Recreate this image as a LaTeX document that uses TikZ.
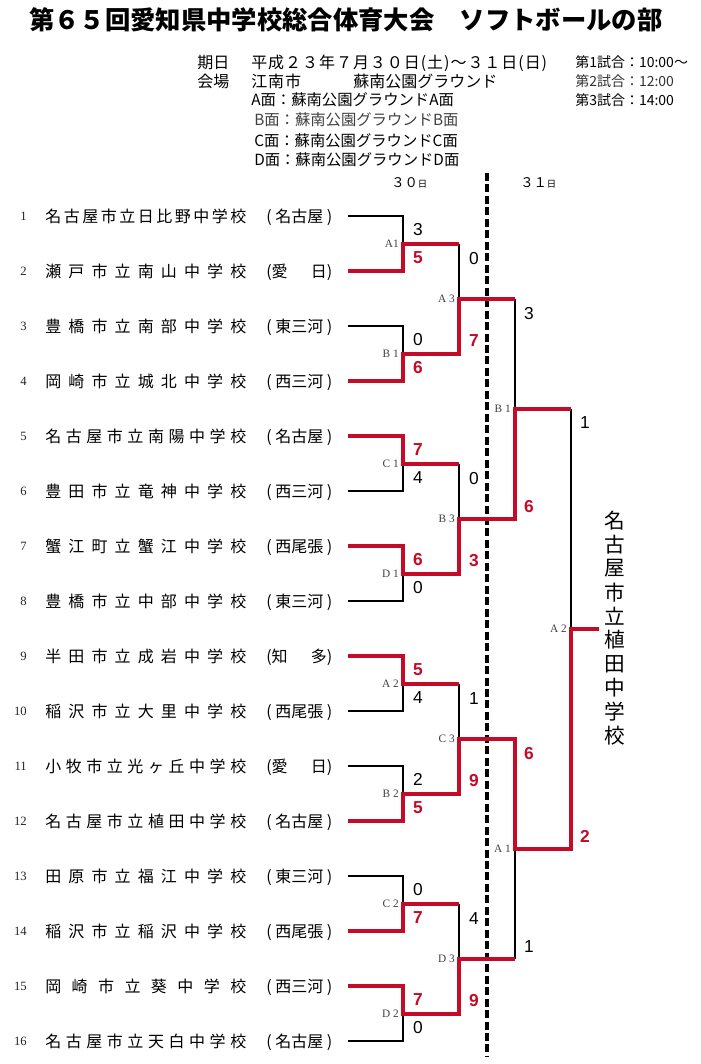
\documentclass[tikz,border=0pt]{standalone}
\usepackage{fontspec}
\setmainfont{Liberation Serif}
\newfontfamily\jp{Noto Sans CJK JP}
\newfontfamily\jpls{Noto Sans CJK JP}[LetterSpace=6]
\newfontfamily\lsans{Liberation Sans}
\definecolor{bred}{RGB}{196,12,40}
\newcommand\tname[1]{\hbox to 150.75pt{\spaceskip=0pt plus 1fil\relax #1}}
\newcommand\treg[1]{\hbox to 49.5pt{#1}}
\tikzset{
  blk/.style={draw=black, line width=0.8pt},
  rd/.style={draw=bred, line width=3pt, line join=miter},
  dashln/.style={draw=black, line width=2.3pt, dash pattern=on 6pt off 2.6pt},
  team/.style={anchor=base west, inner sep=0pt, font=\jp\fontsize{12pt}{14pt}\selectfont},
  num/.style={anchor=east, inner sep=0pt, font=\fontsize{9.5pt}{12pt}\selectfont, text=black!85},
  hd/.style={anchor=base west, inner sep=0pt, font=\jp\fontsize{12pt}{14pt}\selectfont},
  tm/.style={anchor=base west, inner sep=0pt, font=\jp\fontsize{10.5pt}{12pt}\selectfont},
  fm/.style={anchor=base west, inner sep=0pt, font=\jp\fontsize{11.5pt}{13pt}\selectfont},
  scb/.style={inner sep=0pt, font=\lsans\fontsize{13pt}{15pt}\selectfont},
  scr/.style={inner sep=0pt, font=\lsans\bfseries\fontsize{13pt}{15pt}\selectfont, text=bred},
  lab/.style={anchor=east, inner sep=0pt, font=\fontsize{8.5pt}{10pt}\selectfont, text=black!75},
  win/.style={inner sep=0pt, font=\jp\fontsize{15.5pt}{17pt}\selectfont},
}
\begin{document}
\begin{tikzpicture}[x=0.75pt, y=-0.75pt]
\fill[white] (0,0) rectangle (700,1064);
\useasboundingbox (0,0) rectangle (700,1064);

% title and header
\node[anchor=west, inner sep=0pt, font=\jp\bfseries\fontsize{19pt}{22pt}\selectfont] (title) at (29,20) {第６５回愛知県中学校総合体育大会　ソフトボールの部};
\node[hd] (kijitsu) at (197,68) {期日};
\node[hd, font=\jpls\fontsize{12pt}{14pt}\selectfont] (date) at (251,68) {平成２３年７月３０日(土)～３１日(日)};
\node[hd] (kaijo) at (197,87) {会場};
\node[hd, font=\jpls\fontsize{12pt}{14pt}\selectfont] (city) at (251,87) {江南市};
\node[hd] (park) at (353,87) {蘇南公園グラウンド};
\node[tm] (g1) at (575,67.5) {第1試合：10:00～};
\node[tm, text=black!80] (g2) at (575,86.5) {第2試合：12:00};
\node[tm] (g3) at (575,105.5) {第3試合：14:00};
\node[fm] (fa) at (251,105.5) {A面：蘇南公園グラウンドA面};
\node[fm, text=black!75] (fb) at (254,125) {B面：蘇南公園グラウンドB面};
\node[fm] (fc) at (254,146) {C面：蘇南公園グラウンドC面};
\node[fm] (fd) at (254,165) {D面：蘇南公園グラウンドD面};
\node[anchor=base west, inner sep=0pt, font=\jp\fontsize{10pt}{12pt}\selectfont] (d30) at (391,187) {３０\fontsize{7pt}{8pt}\selectfont 日};
\node[anchor=base west, inner sep=0pt, font=\jp\fontsize{10pt}{12pt}\selectfont] (d31) at (520,187) {３１\fontsize{7pt}{8pt}\selectfont 日};

% dashed day separator
\coordinate (dtop) at (487,173);
\coordinate (dbot) at (487,1056);
\draw[dashln] (dtop) -- (dbot);

% teams
\foreach \nm/\rg [count=\i] in {
  {名 古 屋 市 立 日 比 野 中 学 校}/{(\hfil 名古屋\hfil)},
  {瀬 戸 市 立 南 山 中 学 校}/{(愛\hfil 日)},
  {豊 橋 市 立 南 部 中 学 校}/{(\hfil 東三河\hfil)},
  {岡 崎 市 立 城 北 中 学 校}/{(\hfil 西三河\hfil)},
  {名 古 屋 市 立 南 陽 中 学 校}/{(\hfil 名古屋\hfil)},
  {豊 田 市 立 竜 神 中 学 校}/{(\hfil 西三河\hfil)},
  {蟹 江 町 立 蟹 江 中 学 校}/{(\hfil 西尾張\hfil)},
  {豊 橋 市 立 中 部 中 学 校}/{(\hfil 東三河\hfil)},
  {半 田 市 立 成 岩 中 学 校}/{(知\hfil 多)},
  {稲 沢 市 立 大 里 中 学 校}/{(\hfil 西尾張\hfil)},
  {小 牧 市 立 光 ヶ 丘 中 学 校}/{(愛\hfil 日)},
  {名 古 屋 市 立 植 田 中 学 校}/{(\hfil 名古屋\hfil)},
  {田 原 市 立 福 江 中 学 校}/{(\hfil 東三河\hfil)},
  {稲 沢 市 立 稲 沢 中 学 校}/{(\hfil 西尾張\hfil)},
  {岡 崎 市 立 葵 中 学 校}/{(\hfil 西三河\hfil)},
  {名 古 屋 市 立 天 白 中 学 校}/{(\hfil 名古屋\hfil)}} {
  \pgfmathsetmacro\ty{216+55*(\i-1)}
  \node[num] (n\i) at (27,\ty) {\i};
  \node[team] (t\i) at (45,\ty+6) {\tname{\nm}};
  \node[team] (r\i) at (266,\ty+6) {\treg{\rg}};
  \coordinate (s\i) at (348,\ty);
  \coordinate (e\i) at (403,\ty);
}

% join coordinates
\foreach \k in {1,...,8} {
  \pgfmathsetmacro\jy{243.5+110*(\k-1)}
  \coordinate (aj\k) at (403,\jy);
  \coordinate (ao\k) at (459,\jy);
}
\foreach \k in {1,...,4} {
  \pgfmathsetmacro\jy{298.5+220*(\k-1)}
  \coordinate (bj\k) at (459,\jy);
  \coordinate (bo\k) at (515,\jy);
}
\coordinate (cj1) at (515,408.5);
\coordinate (co1) at (571,408.5);
\coordinate (cj2) at (515,848.5);
\coordinate (co2) at (571,848.5);
\coordinate (fj) at (571,628.5);
\coordinate (fo) at (599,628.5);

% ---- black (losing) lines
\foreach \l/\k in {1/1,3/2,6/3,8/4,10/5,11/6,13/7,16/8}
  \draw[blk] (s\l) -- (e\l) -- (aj\k);
\draw[blk] (ao1) -- (bj1);
\draw[blk] (ao3) -- (bj2);
\draw[blk] (ao5) -- (bj3);
\draw[blk] (ao7) -- (bj4);
\draw[blk] (bo1) -- (cj1);
\draw[blk] (bo4) -- (cj2);
\draw[blk] (co1) -- (fj);

% ---- red (winning) lines
\foreach \w/\k in {2/1,4/2,5/3,7/4,9/5,12/6,14/7,15/8}
  \draw[rd] (s\w) -- (e\w) -- (aj\k) -- (ao\k);
\draw[rd] (aj2) -- (ao2) -- (bj1) -- (bo1);
\draw[rd] (aj4) -- (ao4) -- (bj2) -- (bo2);
\draw[rd] (aj6) -- (ao6) -- (bj3) -- (bo3);
\draw[rd] (aj8) -- (ao8) -- (bj4) -- (bo4);
\draw[rd] (bj2) -- (bo2) -- (cj1) -- (co1);
\draw[rd] (bj3) -- (bo3) -- (cj2) -- (co2);
\draw[rd] (cj2) -- (co2) -- (fj) -- (fo);

% ---- game labels
\node[lab] (la1) at (399,243.5) {A1};
\node[lab] (lb1) at (399,353.5) {B 1};
\node[lab] (lc1) at (399,463.5) {C 1};
\node[lab] (ld1) at (399,573.5) {D 1};
\node[lab] (la2) at (399,683.5) {A 2};
\node[lab] (lb2) at (399,793.5) {B 2};
\node[lab] (lc2) at (399,903.5) {C 2};
\node[lab] (ld2) at (399,1013.5) {D 2};
\node[lab] (la3) at (455,298.5) {A 3};
\node[lab] (lb3) at (455,518.5) {B 3};
\node[lab] (lc3) at (455,738.5) {C 3};
\node[lab] (ld3) at (455,958.5) {D 3};
\node[lab] (lsb1) at (511,408.5) {B 1};
\node[lab] (lsa1) at (511,848.5) {A 1};
\node[lab] (lfa2) at (567,628.5) {A 2};

% ---- scores round 1
\node[scb] (p1) at (418,229.5) {3};  \node[scr] (p2) at (418,257.5) {5};
\node[scb] (p3) at (418,339.5) {0};  \node[scr] (p4) at (418,367.5) {6};
\node[scr] (p5) at (418,449.5) {7};  \node[scb] (p6) at (418,477.5) {4};
\node[scr] (p7) at (418,559.5) {6};  \node[scb] (p8) at (418,587.5) {0};
\node[scr] (p9) at (418,669.5) {5};  \node[scb] (p10) at (418,697.5) {4};
\node[scb] (p11) at (418,779.5) {2}; \node[scr] (p12) at (418,807.5) {5};
\node[scb] (p13) at (418,889.5) {0}; \node[scr] (p14) at (418,917.5) {7};
\node[scr] (p15) at (418,999.5) {7}; \node[scb] (p16) at (418,1027.5) {0};
% round 2
\node[scb] (q1) at (474,258.5) {0}; \node[scr] (q2) at (474,340.5) {7};
\node[scb] (q3) at (474,478.5) {0}; \node[scr] (q4) at (474,560.5) {3};
\node[scb] (q5) at (474,698.5) {1}; \node[scr] (q6) at (474,780.5) {9};
\node[scb] (q7) at (474,918.5) {4}; \node[scr] (q8) at (474,1000.5) {9};
% round 3
\node[scb] (u1) at (529,313.5) {3}; \node[scr] (u2) at (529,506.5) {6};
\node[scr] (u3) at (529,753.5) {6}; \node[scb] (u4) at (529,946.5) {1};
% final
\node[scb] (v1) at (585,423) {1}; \node[scr] (v2) at (585,836) {2};

% ---- champion
\foreach \c [count=\i] in {名,古,屋,市,立,植,田,中,学,校}
  \node[win] (w\i) at (615,{521+23.8*(\i-1)}) {\c};
\end{tikzpicture}
\end{document}
